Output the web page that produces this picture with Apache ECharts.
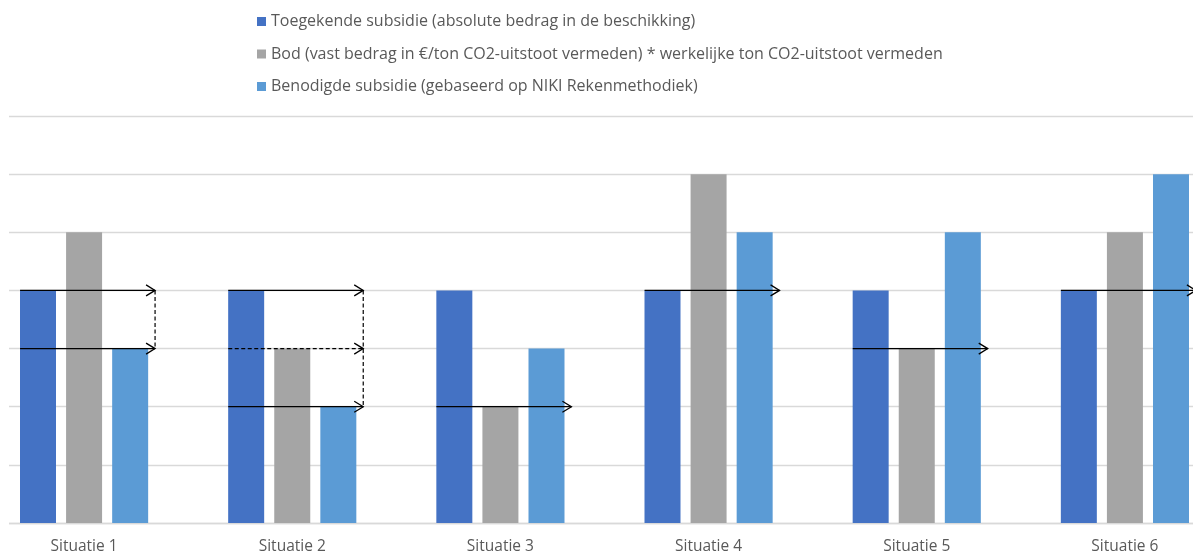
<!DOCTYPE html>
<html>
<head>
<meta charset="utf-8">
<script src="https://cdn.jsdelivr.net/npm/echarts@6/dist/echarts.min.js"></script>
<style>
  html, body { margin: 0; padding: 0; background: #fff; overflow: hidden; width: 1193px; height: 555px; position: relative; }
  /* the plot runs a little past both page edges */
  #chart { position: absolute; left: -29px; top: 0; width: 1258px; height: 555px; }
</style>
</head>
<body>
<div id="chart"></div>
<script>
// Situations and the three amounts compared in each of them
const categories = ['Situatie 1', 'Situatie 2', 'Situatie 3', 'Situatie 4', 'Situatie 5', 'Situatie 6'];
const toegekend = [4, 4, 4, 4, 4, 4];
const bod = [5, 3, 2, 6, 3, 5];
const benodigd = [3, 2, 3, 5, 5, 6];

const seriesNames = [
  'Toegekende subsidie (absolute bedrag in de beschikking)',
  'Bod (vast bedrag in \u20AC/ton CO2-uitstoot vermeden) * werkelijke ton CO2-uitstoot vermeden',
  'Benodigde subsidie (gebaseerd op NIKI Rekenmethodiek)'
];

// Arrows marking the amount that is paid out: [situation index, level]
const arrowsSolid = [[0, 4], [0, 3], [1, 4], [1, 2], [2, 2], [3, 4], [4, 3], [5, 4]];
const arrowsDashed = [[1, 3]];
// Dashed vertical connectors: [situation index, upper level, lower level]
const connectors = [[0, 4, 3], [1, 4, 2]];

const OFFSET = 29; // container starts this far left of the page

const chart = echarts.init(document.getElementById('chart'));

function arrowRenderer(dashed) {
  return function (params, api) {
    const p = api.coord([api.value(0), api.value(1)]);
    const band = api.size([1, 0])[0];
    const x0 = p[0] - band * 0.3075;
    const x1 = p[0] + band * 0.341;
    const y = p[1];
    const style = { stroke: '#000', lineWidth: 1.3, fill: null };
    return {
      type: 'group',
      children: [
        { type: 'line', shape: { x1: x0, y1: y, x2: x1, y2: y },
          style: Object.assign({}, style, dashed ? { lineDash: [4, 2.5] } : {}) },
        { type: 'polyline', shape: { points: [[x1 - 9, y - 5.5], [x1, y], [x1 - 9, y + 5.5]] },
          style: style }
      ]
    };
  };
}

function connectorRenderer(params, api) {
  const top = api.coord([api.value(0), api.value(1)]);
  const bottom = api.coord([api.value(0), api.value(2)]);
  const band = api.size([1, 0])[0];
  const x = top[0] + band * 0.341;
  return {
    type: 'line',
    shape: { x1: x, y1: top[1], x2: x, y2: bottom[1] },
    style: { stroke: '#000', lineWidth: 1.2, lineDash: [4, 2.5] }
  };
}

const option = {
  backgroundColor: '#ffffff',
  animation: false,
  textStyle: { fontFamily: '"Open Sans", Lato, sans-serif' },
  legend: {
    orient: 'vertical',
    left: 252 + OFFSET,
    top: 8,
    itemWidth: 9,
    itemHeight: 9,
    itemGap: 15.5,
    icon: 'rect',
    data: seriesNames,
    textStyle: { color: '#595959', fontSize: 16, lineHeight: 17 }
  },
  grid: { left: 9, right: 0, top: 116, bottom: 31 },
  xAxis: {
    type: 'category',
    data: categories,
    axisTick: { show: false },
    axisLine: { lineStyle: { color: '#D9D9D9', width: 1.3 } },
    axisLabel: { color: '#595959', fontSize: 15.5, margin: 16 }
  },
  yAxis: {
    type: 'value',
    min: 0,
    max: 7,
    interval: 1,
    axisLabel: { show: false },
    axisLine: { show: false },
    axisTick: { show: false },
    splitLine: { lineStyle: { color: '#D9D9D9', width: 1.3 } }
  },
  series: [
    { name: seriesNames[0], type: 'bar', data: toegekend, barWidth: 36, barGap: '28%',
      itemStyle: { color: '#4472C4' } },
    { name: seriesNames[1], type: 'bar', data: bod, barWidth: 36, barGap: '28%',
      itemStyle: { color: '#A5A5A5' } },
    { name: seriesNames[2], type: 'bar', data: benodigd, barWidth: 36, barGap: '28%',
      itemStyle: { color: '#5B9BD5' } },
    { type: 'custom', renderItem: arrowRenderer(false), data: arrowsSolid, z: 5, clip: false },
    { type: 'custom', renderItem: arrowRenderer(true), data: arrowsDashed, z: 5, clip: false },
    { type: 'custom', renderItem: connectorRenderer, data: connectors, z: 5, clip: false }
  ],
  graphic: [
    // blank margin left of the plot
    { type: 'rect', left: OFFSET, top: 100, z: 100,
      shape: { width: 9, height: 430 }, style: { fill: '#ffffff' } }
  ]
};

chart.setOption(option);
</script>
</body>
</html>
